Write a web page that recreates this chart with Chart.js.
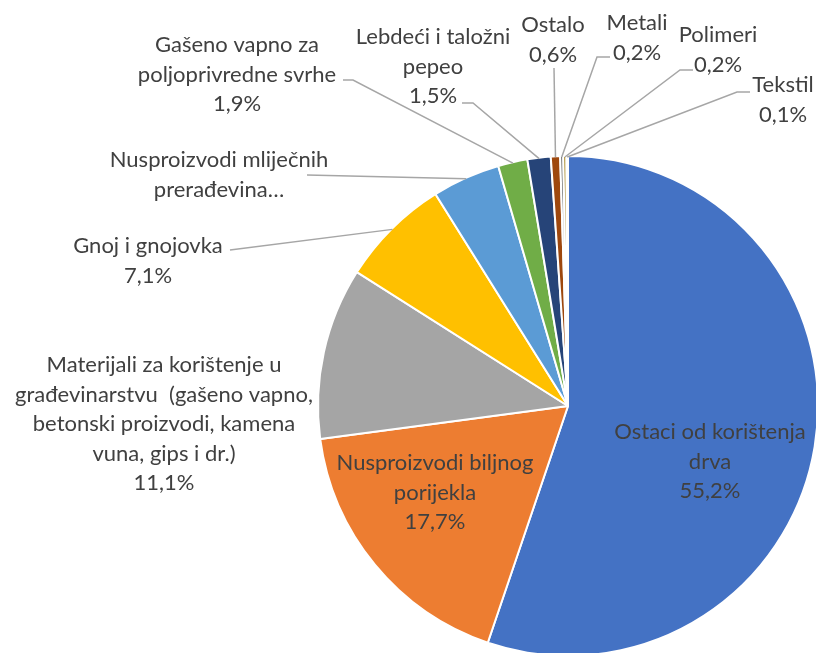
<!DOCTYPE html>
<html>
<head>
<meta charset="utf-8">
<script src="https://cdn.jsdelivr.net/npm/chart.js@4"></script>
<style>
  html, body { margin: 0; padding: 0; background: #fff; }
  #wrap { width: 816px; height: 653px; overflow: hidden; }
</style>
</head>
<body>
<div id="wrap"><canvas id="chart" width="819" height="657"></canvas></div>
<script>
// categories, as they are wrapped in the picture
const categories = [
  ['Ostaci od korištenja', 'drva'],
  ['Nusproizvodi biljnog', 'porijekla'],
  ['Materijali za korištenje u', 'građevinarstvu  (gašeno vapno,', 'betonski proizvodi, kamena', 'vuna, gips i dr.)'],
  ['Gnoj i gnojovka'],
  ['Nusproizvodi mliječnih', 'prerađevina…'],
  ['Gašeno vapno za', 'poljoprivredne svrhe'],
  ['Lebdeći i taložni', 'pepeo'],
  ['Ostalo'],
  ['Metali'],
  ['Polimeri'],
  ['Tekstil']
];
const shares = [55.2, 17.7, 11.1, 7.1, 4.4, 1.9, 1.5, 0.6, 0.2, 0.2, 0.1];
// the truncated label shows no percentage
const showShare = [true, true, true, true, false, true, true, true, true, true, true];
const colors = ['#4472C4', '#ED7D31', '#A5A5A5', '#FFC000', '#5B9BD5', '#70AD47',
                '#264478', '#9E480E', '#636363', '#997300', '#255E91'];

// where each label block sits (centre x, first line y) and where its leader line starts
const labelLayout = [
  { x: 710, y: 432 },
  { x: 435, y: 463 },
  { x: 164, y: 365 },
  { x: 148, y: 246, lead: [[230, 250]] },
  { x: 219, y: 160, lead: [[307, 175]] },
  { x: 237, y: 45,  lead: [[343, 80], [353, 80]] },
  { x: 433, y: 37,  lead: [[462, 103], [473, 103]] },
  { x: 553, y: 25,  lead: [[554, 68]] },
  { x: 637, y: 23,  lead: [[610, 57], [597, 57]] },
  { x: 718, y: 35,  lead: [[693, 70], [680, 70]] },
  { x: 783, y: 85,  lead: [[750, 92], [737, 92]] }
];
const lineH = 29.5;

function fmt(v) {
  return v.toFixed(1).replace('.', ',') + '%';
}

const sliceLabels = {
  id: 'sliceLabels',
  afterDatasetsDraw(chart) {
    const ctx = chart.ctx;
    const arcs = chart.getDatasetMeta(0).data;
    ctx.save();
    arcs.forEach((arc, i) => {
      const lay = labelLayout[i];
      const p = arc.getProps(['x', 'y', 'startAngle', 'endAngle', 'outerRadius'], true);
      if (lay.lead) {
        const mid = (p.startAngle + p.endAngle) / 2;
        const ex = p.x + Math.cos(mid) * (p.outerRadius - 1);
        const ey = p.y + Math.sin(mid) * (p.outerRadius - 1);
        ctx.beginPath();
        ctx.strokeStyle = '#A6A6A6';
        ctx.lineWidth = 1.5;
        ctx.moveTo(lay.lead[0][0], lay.lead[0][1]);
        for (let k = 1; k < lay.lead.length; k++) ctx.lineTo(lay.lead[k][0], lay.lead[k][1]);
        ctx.lineTo(ex, ey);
        ctx.stroke();
      }
      const lines = categories[i].slice();
      if (showShare[i]) lines.push(fmt(shares[i]));
      ctx.fillStyle = '#404040';
      ctx.font = '22px Lato';
      ctx.textAlign = 'center';
      ctx.textBaseline = 'middle';
      lines.forEach((t, k) => ctx.fillText(t, lay.x, lay.y + k * lineH));
    });
    ctx.restore();
  }
};

const data = {
  labels: categories.map(c => c.join(' ')),
  datasets: [{
    data: shares,
    backgroundColor: colors,
    borderColor: '#ffffff',
    borderWidth: 2
  }]
};

const config = {
  type: 'pie',
  data: data,
  options: {
    responsive: false,
    animation: false,
    layout: { padding: { left: 317, top: 155, right: 0, bottom: 0 } },
    plugins: {
      legend: { display: false },
      tooltip: { enabled: false }
    }
  },
  plugins: [sliceLabels]
};

var ctx = document.getElementById('chart');
var myChart = new Chart(ctx, config);
</script>
</body>
</html>
